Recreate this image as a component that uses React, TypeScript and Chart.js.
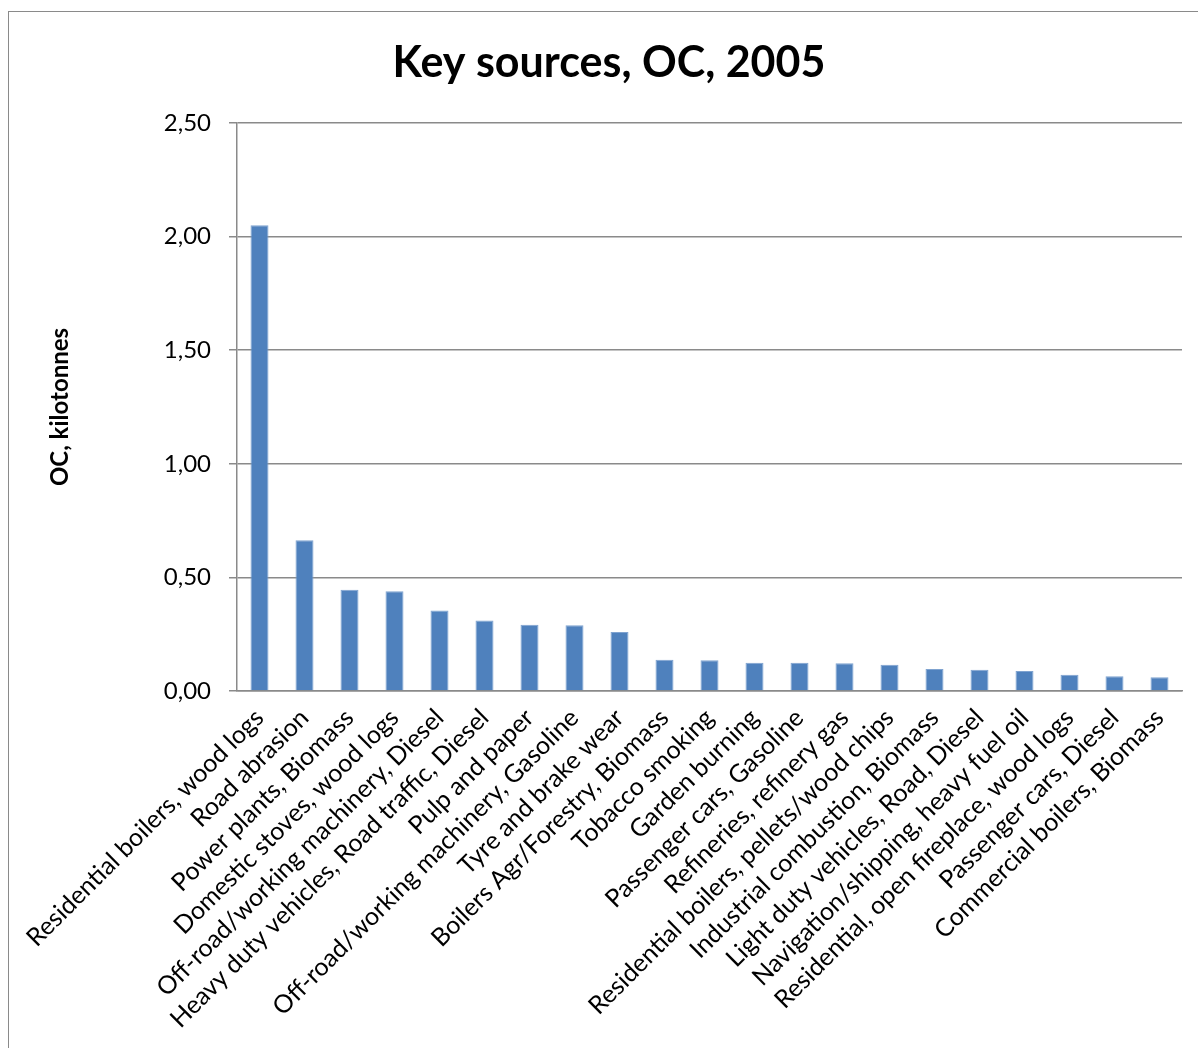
import React, { useEffect, useRef } from "react";
import { Chart, registerables } from "chart.js";

Chart.register(...registerables);

const categories: string[] = [
  "Residential boilers, wood logs",
  "Road abrasion",
  "Power plants, Biomass",
  "Domestic stoves, wood logs",
  "Off-road/working machinery, Diesel",
  "Heavy duty vehicles, Road traffic, Diesel",
  "Pulp and paper",
  "Off-road/working machinery, Gasoline",
  "Tyre and brake wear",
  "Boilers Agr/Forestry, Biomass",
  "Tobacco smoking",
  "Garden burning",
  "Passenger cars, Gasoline",
  "Refineries, refinery gas",
  "Residential boilers, pellets/wood chips",
  "Industrial combustion, Biomass",
  "Light duty vehicles, Road, Diesel",
  "Navigation/shipping, heavy fuel oil",
  "Residential, open fireplace, wood logs",
  "Passenger cars, Diesel",
  "Commercial boilers, Biomass",
];

const ocValues: number[] = [
  2.05, 0.664, 0.446, 0.439, 0.354, 0.31, 0.292, 0.289, 0.26, 0.138, 0.135,
  0.124, 0.124, 0.122, 0.115, 0.097, 0.094, 0.088, 0.071, 0.065, 0.06,
];

const yTicks: number[] = [0, 0.5, 1.0, 1.5, 2.0, 2.5];

const titleText = "Key sources, OC, 2005";
const yTitle = "OC, kilotonnes";

const FONT = "Lato, 'Open Sans', sans-serif";
const W = 1198;
const H = 1048;

export default function App() {
  const ref = useRef<HTMLCanvasElement | null>(null);

  useEffect(() => {
    if (!ref.current) return;
    const titlePlugin = {
      id: "customTitle",
      afterDraw(chart: any) {
        const ctx = chart.ctx;
        ctx.save();
        ctx.font = `bold 43px ${FONT}`;
        ctx.fillStyle = "#000";
        ctx.textAlign = "center";
        ctx.textBaseline = "middle";
        ctx.fillText(titleText, 609, 63);
        ctx.restore();
      },
    };
    const chart = new Chart(ref.current, {
      type: "bar",
      data: {
        labels: categories,
        datasets: [
          {
            data: ocValues,
            backgroundColor: "#4F81BD",
            borderColor: "#7FA3D0",
            borderWidth: { top: 1, left: 1, right: 1, bottom: 0 } as any,
            barPercentage: 0.4,
            categoryPercentage: 1.0,
          },
        ],
      },
      options: {
        responsive: false,
        animation: false,
        layout: { padding: { left: 0, right: 16, top: 123, bottom: 0 } },
        plugins: {
          legend: { display: false },
          tooltip: { enabled: false },
          title: { display: false },
        },
        scales: {
          x: {
            grid: { display: false, drawTicks: false },
            border: { display: true, color: "#8a8a8a", width: 1.5 },
            ticks: {
              autoSkip: false,
              maxRotation: 45,
              minRotation: 45,
              padding: 12,
              color: "#000",
              font: { family: FONT, size: 25 },
            },
            afterFit(scale: any) {
              scale.height = H - 691;
            },
          },
          y: {
            min: 0,
            max: 2.5,
            afterBuildTicks(scale: any) {
              scale.ticks = yTicks.map((v) => ({ value: v }));
            },
            grid: {
              color: "#8a8a8a",
              lineWidth: 1.5,
              drawTicks: true,
              tickLength: 8,
              tickColor: "#8a8a8a",
            },
            border: { display: true, color: "#8a8a8a", width: 1.5 },
            ticks: {
              padding: 18,
              color: "#000",
              font: { family: FONT, size: 24 },
              callback: (v: any) => Number(v).toFixed(2).replace(".", ","),
            },
            title: {
              display: true,
              text: yTitle,
              color: "#000",
              font: { family: FONT, size: 24, weight: "bold" },
              padding: { top: 46, bottom: 0 },
            },
            afterFit(scale: any) {
              scale.width = 237;
            },
          },
        },
      },
      plugins: [titlePlugin],
    } as any);
    return () => chart.destroy();
  }, []);

  return (
    <div
      style={{
        position: "absolute",
        left: 0,
        top: 0,
        width: W,
        height: H,
        overflow: "hidden",
        background: "#fff",
      }}
    >
      <div
        style={{
          position: "absolute",
          left: 8,
          top: 11,
          width: W,
          height: H,
          borderLeft: "1.5px solid #8a8a8a",
          borderTop: "1.5px solid #8a8a8a",
        }}
      />
      <canvas
        ref={ref}
        width={W}
        height={H}
        style={{ position: "absolute", left: 0, top: 0, width: W, height: H }}
      />
    </div>
  );
}
